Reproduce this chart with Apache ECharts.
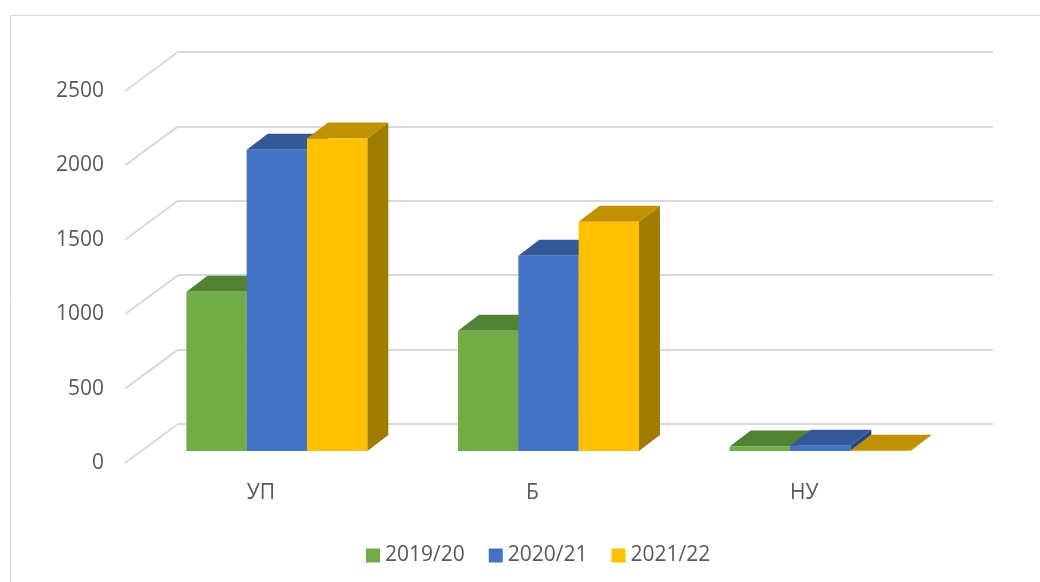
<!DOCTYPE html>
<html><head><meta charset="utf-8">
<script src="https://cdn.jsdelivr.net/npm/echarts@6/dist/echarts.min.js"></script>
<style>html,body{margin:0;padding:0;background:#fff}#c{width:1040px;height:582px}</style>
</head><body><div id="c"></div>
<script>
const categories = ['УП', 'Б', 'НУ'];
const seriesNames = ['2019/20', '2020/21', '2021/22'];
const values2019 = [1070, 808, 30];
const values2020 = [2025, 1312, 35];
const values2021 = [2100, 1540, 2];
const yTicks = [0, 500, 1000, 1500, 2000, 2500];

const seriesValues = [values2019, values2020, values2021];
const palette = [
  {front: '#70AD47', top: '#548235', side: '#43682B'},
  {front: '#4472C4', top: '#335898', side: '#27467E'},
  {front: '#FFC000', top: '#C09100', side: '#A07C00'}
];
const FONT = '"Open Sans", sans-serif';
const TXT = '#595959';
const GRIDC = '#D9D9D9';
const DX = 21, DY = 16;          // bar depth
const FDX = 53, FDY = 39;        // floor depth (front plane -> back wall)
const BAR_FRAC = 0.222;

const chart = echarts.init(document.getElementById('c'), null, {renderer: 'canvas'});

function yAx(gi, showLabel, showSplit) {
  return {
    type: 'value', gridIndex: gi, min: 0, max: 2500, interval: 500,
    axisLine: {show: false}, axisTick: {show: false},
    axisLabel: {show: showLabel, color: TXT, fontSize: 21, fontFamily: FONT, margin: 21,
      formatter: v => String(v)},
    splitLine: {show: showSplit, lineStyle: {color: GRIDC, width: 2}}
  };
}
function xAx(gi, showLabel) {
  return {
    type: 'category', gridIndex: gi, data: categories,
    axisLine: {show: false}, axisTick: {show: false},
    axisLabel: {show: showLabel, color: TXT, fontSize: 21, fontFamily: FONT, margin: 20},
    splitLine: {show: false}
  };
}

function barRenderer(si) {
  const c = palette[si];
  return function (params, api) {
    const cat = api.value(0), val = api.value(1);
    const p0 = api.coord([cat, 0]);
    const p1 = api.coord([cat, val]);
    const band = api.size([1, 0])[0];
    const bw = band * BAR_FRAC;
    const xl = p0[0] - 1.5 * bw + si * bw;
    const xr = xl + bw;
    const yb = p0[1], yt = p1[1];
    return {
      type: 'group', children: [
        {type: 'polygon', shape: {points: [[xr, yb], [xr + DX, yb - DY], [xr + DX, yt - DY], [xr, yt]]}, style: {fill: c.side}},
        {type: 'polygon', shape: {points: [[xl, yt], [xl + DX, yt - DY], [xr + DX, yt - DY], [xr, yt]]}, style: {fill: c.top}},
        {type: 'rect', shape: {x: xl, y: yt, width: bw, height: Math.max(yb - yt, 0)}, style: {fill: c.front}}
      ]
    };
  };
}

const series = [{
  type: 'custom', xAxisIndex: 0, yAxisIndex: 0, silent: true, clip: false, z: 1,
  data: yTicks.map(v => [0, v]),
  encode: {x: 0, y: 1},
  renderItem: function (params, api) {
    const y = api.coord([0, api.value(1)])[1];
    const x = params.coordSys.x;
    return {type: 'line', shape: {x1: x, y1: y, x2: x - FDX, y2: y + FDY},
      style: {stroke: GRIDC, lineWidth: 2}};
  }
}];
seriesNames.forEach((n, si) => {
  series.push({
    type: 'custom', name: n, xAxisIndex: 2, yAxisIndex: 2, clip: false, z: 3 + si,
    itemStyle: {color: palette[si].front},
    data: seriesValues[si].map((v, i) => [i, v]),
    encode: {x: 0, y: 1},
    renderItem: barRenderer(si)
  });
});

chart.setOption({
  animation: false,
  backgroundColor: '#fff',
  graphic: [{type: 'rect', silent: true, shape: {x: 10.5, y: 15.5, width: 1200, height: 800},
    style: {fill: 'none', stroke: GRIDC, lineWidth: 1}}],
  grid: [
    {left: 178, right: 47, top: 52, bottom: 158},
    {left: 125, right: 100, top: 91, bottom: 119},
    {left: 141, right: 84, top: 79, bottom: 131}
  ],
  xAxis: [xAx(0, false), xAx(1, true), xAx(2, false)],
  yAxis: [yAx(0, false, true), yAx(1, true, false), yAx(2, false, false)],
  legend: {
    data: seriesNames, left: 361, top: 540, icon: 'rect', itemWidth: 14, itemHeight: 14,
    itemGap: 24, textStyle: {color: TXT, fontSize: 21, fontFamily: FONT}
  },
  series: series
});
</script>
</body></html>
